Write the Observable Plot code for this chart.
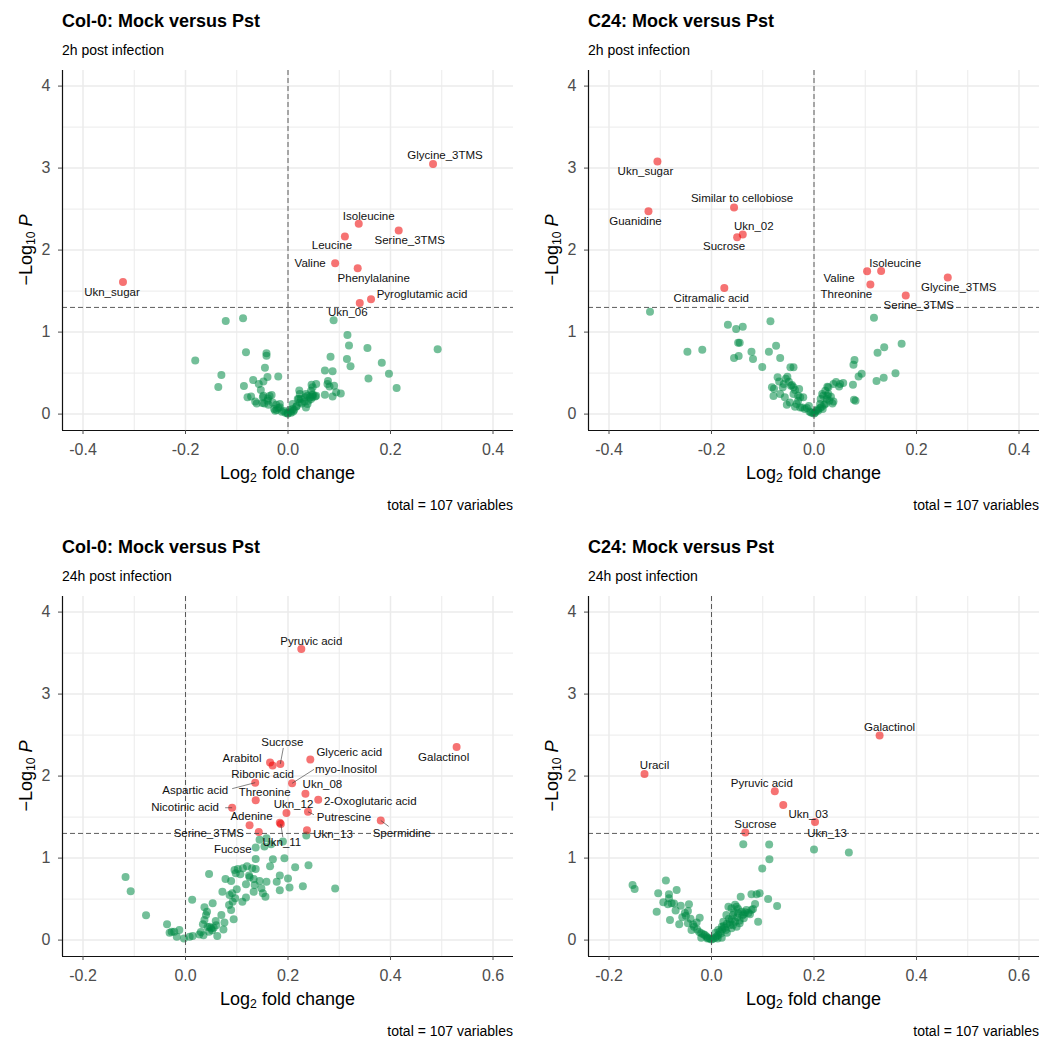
<!DOCTYPE html>
<html>
<head>
<meta charset="utf-8">
<script src="https://cdn.jsdelivr.net/npm/d3@7"></script>
<script src="https://cdn.jsdelivr.net/npm/@observablehq/plot@0.6"></script>
<style>
  body { margin: 0; background: #fff; }
  #root { position: relative; width: 1041px; height: 1039px; font-family: "Liberation Sans", Arial, sans-serif; color: #000; }
  .panel { position: absolute; width: 520px; height: 520px; }
  .title { position: absolute; left: 62px; top: 12px; font-size: 18px; font-weight: bold; line-height: 18px; white-space: nowrap; }
  .subtitle { position: absolute; left: 62px; top: 43px; font-size: 14px; line-height: 14px; white-space: nowrap; }
  .caption { position: absolute; right: 7px; top: 498px; font-size: 14px; line-height: 14px; white-space: nowrap; }
  .xlab { position: absolute; left: 62px; width: 451px; top: 464px; text-align: center; font-size: 18px; line-height: 18px; white-space: nowrap; }
  .ylab { position: absolute; left: -124px; top: 239px; width: 300px; height: 22px; line-height: 22px; text-align: center; font-size: 18px; transform: rotate(-90deg); white-space: nowrap; }
  sub { font-size: 0.68em; line-height: 0; vertical-align: -0.28em; }
  .chart { position: absolute; left: 0; top: 62px; }
</style>
</head>
<body>
<div id="root"></div>
<script>
const THRESH = 1.30103; // -log10(0.05)

// ---------- Panel 1: Col-0, 2h ----------
const col2hNames = ["Glycine_3TMS","Isoleucine","Serine_3TMS","Leucine","Valine","Phenylalanine","Pyroglutamic acid","Ukn_06","Ukn_sugar"];
const col2hSigFC = [0.283,0.138,0.216,0.111,0.092,0.136,0.162,0.140,-0.322];
const col2hSigP  = [3.05,2.32,2.24,2.165,1.84,1.78,1.40,1.355,1.61];
const col2hNsFC = [-0.1215,-0.0877,0.089,0.116,0.119,0.155,0.292,-0.082,-0.042,-0.042,
  -0.181,0.083,0.115,0.122,0.183,-0.130,-0.045,-0.019,-0.040,-0.068,
  -0.048,0.072,0.087,0.197,0.157,-0.136,-0.086,-0.053,0.078,0.090,
  0.081,0.046,0.055,0.022,0.045,0.212,0.072,0.087,0.103,-0.079,
  -0.064,-0.050,-0.036,-0.032,-0.039,-0.023,-0.016,-0.009,0.000,0.009,
  0.016,0.023,0.033,0.038,0.047,0.053,0.035,0.040,0.021,-0.025,
  -0.038,0.005,0.012,0.048,
  -0.027,-0.019,-0.005,0.006,0.017,0.027,0.032,0.043,0.049,0.055,
  -0.061,-0.046,-0.048,-0.072,-0.030,0.009,0.023,0.035,0.025,-0.022,
  -0.012,-0.001,0.019,0.048,0.094,0.077,-0.040,0.038,0.010,-0.016,
  -0.057,-0.049,0.045,0.003];
const col2hNsP = [1.136,1.168,1.144,0.965,0.838,0.806,0.790,0.753,0.741,0.712,
  0.655,0.700,0.672,0.582,0.627,0.476,0.566,0.460,0.452,0.415,
  0.399,0.533,0.521,0.492,0.435,0.330,0.342,0.293,0.403,0.346,
  0.338,0.358,0.366,0.289,0.285,0.317,0.236,0.216,0.252,0.204,
  0.155,0.134,0.220,0.232,0.191,0.114,0.085,0.041,0.008,0.061,
  0.090,0.142,0.204,0.224,0.236,0.216,0.081,0.163,0.183,0.041,
  0.114,0.033,0.049,0.208,
  0.061,0.073,0.016,0.016,0.098,0.130,0.155,0.204,0.236,0.224,
  0.130,0.130,0.224,0.216,0.142,0.122,0.244,0.244,0.183,0.049,
  0.028,0.008,0.183,0.326,0.265,0.366,0.163,0.122,0.033,0.122,
  0.366,0.204,0.183,0.049];

// ---------- Panel 2: C24, 2h ----------
const c24_2hNames = ["Ukn_sugar","Guanidine","Similar to cellobiose","Ukn_02","Sucrose","Citramalic acid","Valine","Isoleucine","Threonine","Glycine_3TMS","Serine_3TMS"];
const c24_2hSigFC = [-0.3055,-0.323,-0.156,-0.139,-0.150,-0.175,0.1036,0.131,0.110,0.261,0.179];
const c24_2hSigP  = [3.081,2.475,2.519,2.190,2.157,1.538,1.742,1.746,1.579,1.665,1.445];
const c24_2hNsFC = [-0.320,-0.168,-0.152,-0.139,-0.085,0.117,0.171,0.137,0.124,-0.148,
  -0.145,-0.074,-0.247,-0.218,-0.122,-0.088,-0.156,-0.147,-0.119,-0.066,
  -0.101,-0.046,-0.040,0.079,0.077,0.093,0.087,0.159,0.136,0.122,
  -0.071,-0.055,-0.082,-0.078,-0.079,-0.061,-0.049,-0.043,-0.037,-0.031,
  -0.053,-0.037,-0.023,-0.014,-0.006,0.004,0.012,0.020,0.025,0.028,
  0.026,0.043,0.057,0.049,0.076,0.016,0.036,0.078,0.081,-0.045,
  -0.027,0.000,0.007,0.015,
  -0.066,-0.057,-0.047,-0.034,-0.027,-0.018,-0.009,-0.003,0.002,0.008,
  0.017,0.023,0.030,0.033,0.022,0.028,0.038,-0.040,-0.059,-0.068,
  -0.052,-0.029,-0.021,-0.040,0.013,0.018,-0.010,-0.031,0.012,0.026,
  0.038,0.051];
const c24_2hNsP = [1.249,1.091,1.038,1.066,1.131,1.176,0.859,0.814,0.749,0.871,
  0.871,0.834,0.761,0.786,0.761,0.761,0.684,0.708,0.672,0.684,
  0.574,0.570,0.570,0.659,0.602,0.492,0.460,0.497,0.444,0.403,
  0.448,0.431,0.326,0.309,0.220,0.326,0.395,0.354,0.293,0.224,
  0.114,0.090,0.081,0.073,0.020,0.041,0.073,0.114,0.183,0.244,
  0.334,0.391,0.379,0.338,0.358,0.244,0.130,0.175,0.163,0.346,
  0.204,0.008,0.057,0.090,
  0.244,0.204,0.142,0.122,0.081,0.061,0.033,0.016,0.016,0.041,
  0.061,0.130,0.163,0.212,0.285,0.326,0.366,0.244,0.366,0.399,
  0.456,0.305,0.204,0.326,0.183,0.224,0.098,0.163,0.122,0.224,
  0.155,0.366];

// ---------- Panel 3: Col-0, 24h ----------
const col24hNames = ["Pyruvic acid","Galactinol","Glyceric acid","Sucrose","Arabitol","Ribonic acid","Aspartic acid","myo-Inositol","Ukn_08","2-Oxoglutaric acid","Threonine","Nicotinic acid","Ukn_12","Putrescine","Spermidine","Adenine","Fucose","Ukn_11","Ukn_13","Serine_3TMS"];
const col24hSigFC = [0.226,0.529,0.2435,0.185,0.165,0.170,0.136,0.208,0.234,0.259,0.137,0.091,0.197,0.239,0.381,0.125,0.184,0.186,0.237,0.143];
const col24hSigP  = [3.551,2.356,2.201,2.148,2.165,2.128,1.920,1.912,1.786,1.712,1.704,1.614,1.549,1.565,1.459,1.402,1.431,1.415,1.341,1.317];
const col24hNsFC = [0.1445,0.158,0.167,0.154,0.137,0.190,0.2357,0.137,0.1705,0.193,
  0.214,0.240,0.046,-0.117,-0.107,0.292,0.229,0.203,0.184,-0.077,0.013,
  -0.036,-0.031,-0.027,-0.022,-0.012,-0.017,-0.003,0.008,0.014,0.027,
  0.037,0.053,0.042,0.040,0.037,0.034,0.047,0.050,0.055,0.046,
  0.059,0.070,0.076,0.074,0.094,0.072,0.078,0.089,0.086,0.091,
  0.097,0.092,0.085,0.089,0.0957,0.102,0.112,0.107,0.098,0.111,
  0.118,0.118,0.130,0.137,0.124,0.133,0.125,0.1445,0.135,0.133,
  0.151,0.156,0.158,0.184,0.178,0.148,
  0.052,0.043,0.060,0.120,0.100,0.062,0.035,0.030,0.165,0.200];
const col24hNsP = [1.223,1.243,1.169,1.141,1.129,1.202,1.275,0.990,0.986,0.998,
  0.889,0.913,0.807,0.770,0.595,0.628,0.656,0.640,0.607,0.302,0.493,
  0.192,0.090,0.102,0.102,0.122,0.041,0.020,0.041,0.049,0.069,
  0.400,0.448,0.347,0.306,0.245,0.192,0.163,0.143,0.151,0.102,
  0.232,0.306,0.216,0.130,0.253,0.591,0.746,0.722,0.550,0.571,
  0.510,0.469,0.428,0.367,0.856,0.868,0.876,0.803,0.815,0.469,
  0.518,0.681,0.876,0.868,0.787,0.746,0.766,0.722,0.673,0.591,
  0.571,0.530,0.713,0.787,0.713,0.632,
  0.120,0.160,0.180,0.900,0.620,0.050,0.060,0.100,0.900,0.750];

// ---------- Panel 4: C24, 24h ----------
const c24_24hNames = ["Galactinol","Uracil","Pyruvic acid","Ukn_03","Ukn_13","Sucrose"];
const c24_24hSigFC = [0.328,-0.1307,0.1235,0.140,0.202,0.066];
const c24_24hSigP  = [2.496,2.027,1.815,1.648,1.440,1.313];
const c24_24hNsFC = [-0.154,-0.150,-0.089,-0.104,-0.083,-0.068,-0.083,-0.094,-0.085,-0.078,
  -0.073,-0.107,-0.081,-0.044,-0.046,-0.050,-0.063,-0.023,-0.029,-0.046,
  -0.039,-0.034,-0.020,-0.013,-0.007,0.000,0.007,0.013,0.016,0.020,
  0.023,0.029,0.033,0.049,0.057,0.078,0.088,0.094,0.1105,0.091,
  0.068,0.075,0.063,0.049,0.042,0.036,0.052,0.046,0.055,0.039,
  0.028,0.059,0.078,0.081,0.063,0.039,0.024,0.013,0.036,0.042,
  0.062,0.1125,0.113,0.099,0.200,0.268,0.128,
  -0.003,0.003,-0.010,0.010,-0.016,0.018,-0.024,0.021,0.026,0.030,
  0.034,0.040,0.044,0.050,0.055,0.060,0.066,0.072,0.046,0.052,
  -0.028,-0.036,-0.041,-0.052,-0.057,-0.070,-0.060,0.085,0.020,-0.020,
  0.030,0.008,0.012,-0.008];
const c24_24hNsP = [0.673,0.624,0.726,0.571,0.559,0.612,0.510,0.461,0.437,0.449,
  0.445,0.347,0.245,0.437,0.355,0.298,0.192,0.273,0.216,0.204,
  0.122,0.163,0.082,0.061,0.029,0.008,0.029,0.061,0.102,0.163,
  0.224,0.306,0.408,0.408,0.530,0.559,0.559,0.571,0.502,0.224,
  0.367,0.314,0.265,0.163,0.306,0.224,0.326,0.224,0.204,0.143,
  0.122,0.347,0.367,0.379,0.314,0.388,0.171,0.122,0.184,0.184,
  1.170,1.166,0.987,0.873,1.105,1.069,0.416,
  0.015,0.015,0.045,0.045,0.070,0.080,0.100,0.130,0.150,0.200,
  0.260,0.250,0.340,0.280,0.240,0.300,0.340,0.330,0.430,0.380,
  0.130,0.190,0.260,0.330,0.280,0.360,0.420,0.440,0.030,0.030,
  0.090,0.090,0.020,0.020];

// Axis ticks and grid
const xTicksTop = [-0.4,-0.2,0,0.2,0.4];
const xMinorTop = [-0.3,-0.1,0.1,0.3];
const xTicksBottom = [-0.2,0,0.2,0.4,0.6];
const xMinorBottom = [-0.1,0.1,0.3,0.5];
const yTicks = [0,1,2,3,4];
const yMinor = [0.5,1.5,2.5,3.5];

// Label placement (pixel nudges: [dx, dy] or [dx, dy, segDx, segDy])
const nudgeCol2h = {"Glycine_3TMS":[12,-9],"Isoleucine":[10,-8],"Serine_3TMS":[11,10],"Leucine":[-13,9],"Valine":[-25,0],"Phenylalanine":[16,10],"Pyroglutamic acid":[51,-5],"Ukn_06":[-12,9],"Ukn_sugar":[-11,10]};
const nudgeC24_2h = {"Ukn_sugar":[-12,10],"Guanidine":[-13,10],"Similar to cellobiose":[8,-9],"Ukn_02":[11,-8],"Sucrose":[-13,9],"Citramalic acid":[-13,10],"Isoleucine":[14,-8],"Valine":[-28,7],"Threonine":[-24,10],"Glycine_3TMS":[11,10],"Serine_3TMS":[13,10]};
const nudgeCol24h = {"Pyruvic acid":[10,-8],"Galactinol":[-13,10],"Glyceric acid":[39,-7],"Sucrose":[2,-22,3,-16],"Arabitol":[-28,-4],"Ribonic acid":[-10,9],"Aspartic acid":[-60,8,-23,6],"myo-Inositol":[54,-14,22,-14],"Ukn_08":[17,-9],"2-Oxoglutaric acid":[52,2],"Threonine":[9,-8],"Nicotinic acid":[-47,0,-7,0],"Ukn_12":[7,-9],"Putrescine":[36,6,6,3],"Spermidine":[21,13,8,6],"Adenine":[2,-9],"Fucose":[-47,27],"Ukn_11":[1,18,2,13],"Ukn_13":[26,4],"Serine_3TMS":[-50,1]};
const nudgeC24_24h = {"Galactinol":[10,-8],"Uracil":[10,-9],"Pyruvic acid":[-13,-8],"Ukn_03":[25,9],"Ukn_13":[12,11],"Sucrose":[10,-8]};

const panels = [
  {left:0, top:0, title:"Col-0: Mock versus Pst", subtitle:"2h post infection", xDomain:[-0.44,0.44], xTicks:xTicksTop, xMinor:xMinorTop,
   names:col2hNames, sigFC:col2hSigFC, sigP:col2hSigP, nsFC:col2hNsFC, nsP:col2hNsP, nudge:nudgeCol2h},
  {left:526, top:0, title:"C24: Mock versus Pst", subtitle:"2h post infection", xDomain:[-0.44,0.44], xTicks:xTicksTop, xMinor:xMinorTop,
   names:c24_2hNames, sigFC:c24_2hSigFC, sigP:c24_2hSigP, nsFC:c24_2hNsFC, nsP:c24_2hNsP, nudge:nudgeC24_2h},
  {left:0, top:526, title:"Col-0: Mock versus Pst", subtitle:"24h post infection", xDomain:[-0.24,0.64], xTicks:xTicksBottom, xMinor:xMinorBottom,
   names:col24hNames, sigFC:col24hSigFC, sigP:col24hSigP, nsFC:col24hNsFC, nsP:col24hNsP, nudge:nudgeCol24h},
  {left:526, top:526, title:"C24: Mock versus Pst", subtitle:"24h post infection", xDomain:[-0.24,0.64], xTicks:xTicksBottom, xMinor:xMinorBottom,
   names:c24_24hNames, sigFC:c24_24hSigFC, sigP:c24_24hSigP, nsFC:c24_24hNsFC, nsP:c24_24hNsP, nudge:nudgeC24_24h}
];

const W = 520, H = 430, ML = 62, MR = 7, MT = 8, MB = 62;
const yDomain = [-0.2, 4.19];
const GRID = "#ebebeb";

function drawPanel(cfg) {
  const kx = (W - ML - MR) / (cfg.xDomain[1] - cfg.xDomain[0]);
  const ky = (H - MT - MB) / (yDomain[1] - yDomain[0]);
  const sig = cfg.names.map((n, i) => ({name: n, fc: cfg.sigFC[i], p: cfg.sigP[i]}));
  const ns = cfg.nsFC.map((v, i) => ({fc: v, p: cfg.nsP[i]}));
  const labels = sig.map(d => {
    const o = cfg.nudge[d.name] || [0, -9];
    return {...d, lx: d.fc + o[0] / kx, ly: d.p - o[1] / ky,
            sx: o.length > 2 ? d.fc + o[2] / kx : null, sy: o.length > 2 ? d.p - o[3] / ky : null};
  });
  const segs = labels.filter(d => d.sx !== null);
  const dash = {stroke: "#4a4a4a", strokeWidth: 0.9, strokeDasharray: "5,3"};

  const chart = Plot.plot({
    width: W, height: H,
    marginLeft: ML, marginRight: MR, marginTop: MT, marginBottom: MB,
    x: {domain: cfg.xDomain},
    y: {domain: yDomain},
    style: {fontFamily: '"Liberation Sans", Arial, sans-serif', fontSize: "16px", background: "transparent", overflow: "visible"},
    marks: [
      Plot.ruleX(cfg.xMinor, {stroke: GRID, strokeWidth: 1}),
      Plot.ruleY(yMinor, {stroke: GRID, strokeWidth: 1}),
      Plot.ruleX(cfg.xTicks, {stroke: GRID, strokeWidth: 1.5}),
      Plot.ruleY(yTicks, {stroke: GRID, strokeWidth: 1.5}),
      Plot.dot(ns, {x: "fc", y: "p", r: 4, fill: "#008B45", fillOpacity: 0.55}),
      Plot.dot(sig, {x: "fc", y: "p", r: 4, fill: "#EE0000", fillOpacity: 0.55}),
      Plot.ruleX([0], dash),
      Plot.ruleY([THRESH], dash),
      Plot.link(segs, {x1: "fc", y1: "p", x2: "sx", y2: "sy", stroke: "#333", strokeWidth: 0.6}),
      Plot.text(labels, {x: "lx", y: "ly", text: "name", fontSize: 11.5, fill: "#111"}),
      Plot.ruleX([cfg.xDomain[0]], {stroke: "#111", strokeWidth: 1.2}),
      Plot.ruleY([yDomain[0]], {stroke: "#111", strokeWidth: 1.2}),
      Plot.axisX({ticks: cfg.xTicks, tickFormat: d => d.toFixed(1), tickSize: 4, tickPadding: 9, label: null, fontSize: 16, color: "#4d4d4d"}),
      Plot.axisY({ticks: yTicks, tickFormat: d => String(d), tickSize: 4, tickPadding: 8, label: null, fontSize: 16, color: "#4d4d4d"})
    ]
  });

  const div = document.createElement("div");
  div.className = "panel";
  div.style.left = cfg.left + "px";
  div.style.top = cfg.top + "px";
  div.innerHTML = `
    <div class="title">${cfg.title}</div>
    <div class="subtitle">${cfg.subtitle}</div>
    <div class="ylab">−Log<sub>10</sub> <i>P</i></div>
    <div class="xlab">Log<sub>2</sub> fold change</div>
    <div class="caption">total = 107 variables</div>`;
  chart.classList.add("chart");
  chart.style.position = "absolute";
  chart.style.left = "0px";
  chart.style.top = "62px";
  div.appendChild(chart);
  document.getElementById("root").appendChild(div);
}

panels.forEach(drawPanel);
</script>
</body>
</html>
